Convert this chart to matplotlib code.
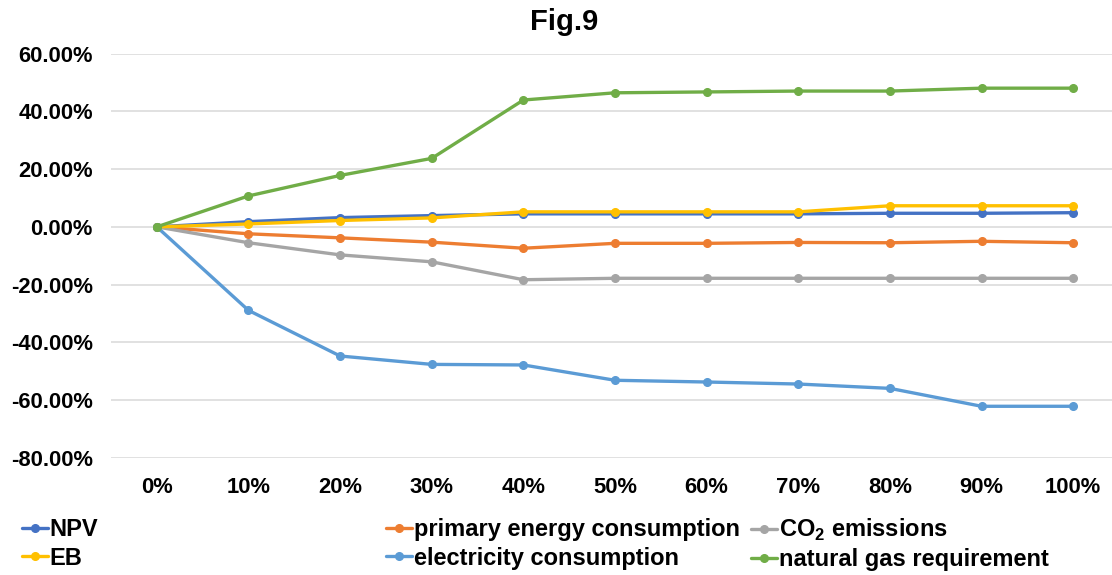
import matplotlib
matplotlib.use("Agg")
import matplotlib.pyplot as plt
import numpy as np

plt.rcParams['font.family'] = ['Liberation Sans', 'DejaVu Sans']
plt.rcParams['font.weight'] = 'bold'
plt.rcParams['mathtext.fontset'] = 'custom'
plt.rcParams['mathtext.rm'] = 'Liberation Sans:bold'
plt.rcParams['mathtext.bf'] = 'Liberation Sans:bold'

# share of the parameter, x axis
categories = ['0%', '10%', '20%', '30%', '40%', '50%', '60%', '70%', '80%', '90%', '100%']

# relative change of each indicator (%)
npv = [0, 1.8, 3.2, 3.9, 4.5, 4.5, 4.5, 4.5, 4.7, 4.7, 4.9]
primary_energy = [0, -2.4, -3.8, -5.3, -7.4, -5.7, -5.7, -5.4, -5.5, -5.0, -5.5]
co2 = [0, -5.5, -9.7, -12.1, -18.3, -17.8, -17.8, -17.8, -17.8, -17.8, -17.8]
eb = [0, 1.0, 2.2, 3.1, 5.2, 5.2, 5.2, 5.2, 7.3, 7.3, 7.3]
electricity = [0, -28.9, -44.7, -47.6, -47.8, -53.1, -53.7, -54.4, -55.9, -62.1, -62.1]
natural_gas = [0, 10.7, 17.8, 23.7, 43.9, 46.4, 46.7, 47.0, 47.0, 48.0, 48.0]

series = [
    ("NPV", npv, "#4472C4"),
    ("primary energy consumption", primary_energy, "#ED7D31"),
    ("CO$_2$ emissions", co2, "#A5A5A5"),
    ("EB", eb, "#FFC000"),
    ("electricity consumption", electricity, "#5B9BD5"),
    ("natural gas requirement", natural_gas, "#70AD47"),
]

fig = plt.figure(figsize=(11.12, 5.75), dpi=100)
ax = fig.add_axes([111 / 1112, 1 - 458 / 575, 1008 / 1112, 404.5 / 575])

x = np.arange(len(categories))
handles = {}
for name, vals, color in series:
    line, = ax.plot(x, vals, color=color, lw=2.4, marker='o', markersize=5.5,
                    label=name, solid_capstyle='round')
    handles[name] = line

ax.set_xlim(-0.5, len(categories) - 0.5)
ax.set_ylim(-80, 60)
ax.set_yticks(np.arange(-80, 61, 20))
ax.set_yticklabels([f"{v:.2f}%" for v in np.arange(-80, 61, 20)])
ax.set_xticks(x)
ax.set_xticklabels(categories)
ax.tick_params(axis='both', length=0, labelsize=15.8)
ax.tick_params(axis='y', pad=13)
ax.tick_params(axis='x', pad=14)
ax.grid(axis='y', color='#D9D9D9', lw=1.1)
ax.set_axisbelow(True)
for s in ax.spines.values():
    s.set_visible(False)

fig.text(0.507, 1 - 22 / 575, "Fig.9", ha='center', va='center', fontsize=21, fontweight='bold')

# legend in three columns, two rows each
cols = [
    (22 / 1112, ["NPV", "EB"]),
    (386 / 1112, ["primary energy consumption", "electricity consumption"]),
    (751 / 1112, ["CO$_2$ emissions", "natural gas requirement"]),
]
for xpos, names in cols:
    fig.legend([handles[n] for n in names], names, loc='center left',
               bbox_to_anchor=(xpos, 1 - 544 / 575), frameon=False,
               handlelength=1.1, handletextpad=0.08,
               labelspacing=0.22, borderpad=0, borderaxespad=0,
               prop={'weight': 'bold', 'size': 17})

fig.savefig("out.png", dpi=100)
